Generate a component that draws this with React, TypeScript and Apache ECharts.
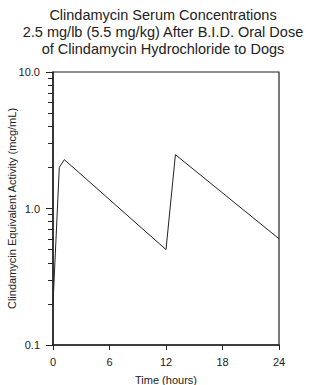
import React, { useEffect, useRef } from "react";
import * as echarts from "echarts";

const titleLines = [
  "Clindamycin Serum Concentrations",
  "2.5 mg/lb (5.5 mg/kg) After B.I.D. Oral Dose",
  "of Clindamycin Hydrochloride to Dogs",
];
const xAxisName = "Time (hours)";
const yAxisName = "Clindamycin Equivalent Activity (mcg/mL)";
const timeHours = [0, 0.67, 1.2, 12, 13, 24];
const concentration = [0.2, 2.0, 2.28, 0.5, 2.48, 0.6];
const yMajorTicks = [0.1, 1, 10];
const yMinorTicks = [0.2, 0.3, 0.4, 0.5, 0.6, 0.7, 0.8, 0.9, 2, 3, 4, 5, 6, 7, 8, 9];

const FONT = "Liberation Sans, Arial, sans-serif";

export default function App() {
  const ref = useRef<HTMLDivElement>(null);
  useEffect(() => {
    if (!ref.current) return;
    const chart = echarts.init(ref.current, undefined, { renderer: "svg" });
    const data = timeHours.map((t, i) => [t, concentration[i]]);
    const baseY = {
      type: "log" as const,
      logBase: 10,
      min: 0.1,
      max: 10,
      gridIndex: 0,
      position: "left" as const,
      splitLine: { show: false },
    };
    chart.setOption({
      animation: false,
      textStyle: { fontFamily: FONT },
      graphic: [
        {
          type: "text",
          x: 163,
          y: 6,
          style: {
            text: titleLines.join("\n"),
            font: `14.5px ${FONT}`,
            fill: "#222",
            align: "center",
            lineHeight: 17,
          },
        },
      ],
      grid: {
        left: 53,
        right: 31,
        top: 72,
        bottom: 40,
        containLabel: false,
        outerBoundsMode: "none",
        show: true,
        borderColor: "#222",
        borderWidth: 1.2,
        backgroundColor: "transparent",
      },
      xAxis: {
        type: "value",
        min: 0,
        max: 24,
        interval: 6,
        name: xAxisName,
        nameLocation: "middle",
        nameGap: 29,
        nameMoveOverlap: false,
        nameTextStyle: { fontSize: 11, color: "#222", fontFamily: FONT },
        axisLine: { show: true, lineStyle: { color: "#222", width: 1.5 } },
        axisTick: { show: true, length: 5, lineStyle: { color: "#222" } },
        axisLabel: { fontSize: 11, color: "#222", margin: 11, fontFamily: FONT },
        splitLine: { show: false },
      },
      yAxis: [
        {
          ...baseY,
          name: yAxisName,
          nameLocation: "middle",
          nameGap: 36,
          nameMoveOverlap: false,
          nameTextStyle: { fontSize: 11, color: "#222", fontFamily: FONT },
          axisLine: { show: true, lineStyle: { color: "#222", width: 1.5 } },
          axisTick: {
            show: true,
            length: 7,
            customValues: yMajorTicks,
            lineStyle: { color: "#222" },
          },
          axisLabel: {
            fontSize: 11,
            color: "#222",
            margin: 13,
            fontFamily: FONT,
            customValues: yMajorTicks,
            formatter: (v: number) => v.toFixed(1),
          },
        },
        {
          ...baseY,
          axisLine: { show: false },
          axisTick: {
            show: true,
            length: 5,
            customValues: yMinorTicks,
            lineStyle: { color: "#222" },
          },
          axisLabel: { show: false },
        },
      ],
      series: [
        {
          type: "line",
          data,
          yAxisIndex: 0,
          symbol: "none",
          lineStyle: { color: "#222", width: 1 },
        },
      ],
    });
    return () => chart.dispose();
  }, []);
  return (
    <div
      ref={ref}
      style={{ position: "absolute", left: 0, top: 0, width: 310, height: 385 }}
    />
  );
}
